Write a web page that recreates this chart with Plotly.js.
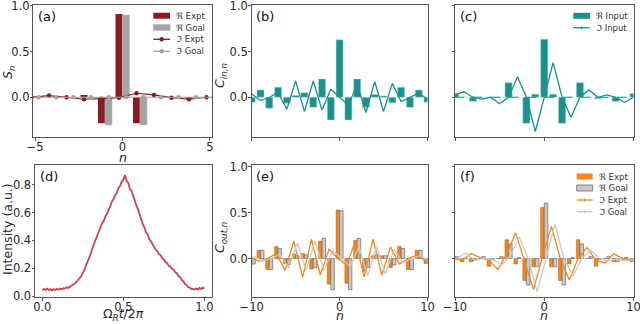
<!DOCTYPE html>
<html><head><meta charset="utf-8">
<script src="https://cdn.plot.ly/plotly-3.0.1.min.js"></script>
<style>html,body{margin:0;padding:0;background:#fff}#chart{width:640px;height:324px}</style>
</head><body><div id="chart"></div>
<script>
// ---------- data ----------
const nA = [-5,-4,-3,-2,-1,0,1,2,3,4,5];
const reExptA = [0, 0, 0, 0.025, -0.285, 0.912, -0.285, 0, 0, -0.015, 0];
const reGoalA = [0, 0, 0, 0, -0.303, 0.90, -0.303, 0, 0, 0, 0];
const imExptA = [0, 0.018, 0.0, -0.022, -0.015, -0.004, 0.044, 0.026, -0.004, -0.022, 0.0];
const imGoalA = [0, 0, 0, 0, 0, 0, 0, 0, 0, 0, 0];

const nC = [-10,-9,-8,-7,-6,-5,-4,-3,-2,-1,0,1,2,3,4,5,6,7,8,9,10];
// (b) input
const reInB = [-0.055, 0.08, -0.12, 0.11, -0.065, 0.02, 0.05, -0.11, 0.2, -0.25, 0.63, -0.25, 0.2, -0.11, 0.03, 0.015, -0.06, 0.11, -0.11, 0.08, -0.055];
const imInB = [0.035, -0.036, 0, 0.05, -0.13, 0.178, -0.156, 0.178, -0.138, 0.087, 0, -0.087, 0.14, -0.167, 0.17, -0.156, 0.152, -0.047, 0, 0.043, -0.02];
// (c) input
const reInC = [0.04, 0, -0.045, 0, 0, 0, 0.16, 0, -0.285, 0.033, 0.635, 0.033, -0.285, 0, 0.16, 0, -0.015, 0, -0.045, 0, 0.04];
const imInC = [0.025, 0.06, 0, -0.02, 0, -0.07, 0, 0.225, 0, -0.375, 0, 0.38, 0, -0.22, 0, 0.08, 0, 0.025, 0, -0.055, 0];
// (d) intensity trace, sampled every 0.01 of Omega_R t / 2pi
const intensityD = [0.043,0.052,0.046,0.055,0.045,0.051,0.042,0.05,0.046,0.054,
 0.047,0.055,0.05,0.058,0.055,0.064,0.06,0.07,0.074,0.085,
 0.09,0.103,0.11,0.13,0.143,0.168,0.188,0.222,0.248,0.283,
 0.308,0.348,0.378,0.422,0.448,0.482,0.498,0.525,0.542,0.574,
 0.592,0.624,0.645,0.68,0.696,0.726,0.742,0.775,0.79,0.82,
 0.835,0.868,0.826,0.814,0.77,0.758,0.716,0.694,0.652,0.624,
 0.582,0.558,0.516,0.494,0.456,0.444,0.41,0.394,0.372,0.358,
 0.332,0.324,0.302,0.294,0.272,0.264,0.245,0.238,0.218,0.213,
 0.197,0.192,0.172,0.165,0.145,0.138,0.117,0.108,0.088,0.082,
 0.065,0.062,0.052,0.053,0.048,0.056,0.05,0.06,0.052,0.062,0.056];
// (e) output for input (b)
const reExptE = [-0.06, 0.09, -0.12, 0.13, -0.055, 0.05, 0.055, -0.115, 0.19, -0.28, 0.53, -0.27, 0.2, -0.14, 0.03, 0.03, -0.1, 0.13, -0.12, 0.09, -0.055];
const reGoalE = [-0.06, 0.09, -0.12, 0.11, -0.07, 0.03, 0.04, -0.1, 0.22, -0.34, 0.52, -0.34, 0.22, -0.1, 0.04, 0.03, -0.07, 0.11, -0.12, 0.09, -0.06];
const imExptE = [0.02, -0.03, 0, 0.055, -0.13, 0.19, -0.205, 0.21, -0.18, 0.1, 0.0, -0.07, 0.19, -0.2, 0.21, -0.18, 0.125, -0.06, 0, 0.035, -0.025];
const imGoalE = [0.03, -0.03, 0, 0.045, -0.1, 0.17, -0.13, 0.19, -0.13, 0.09, 0, -0.09, 0.13, -0.19, 0.13, -0.17, 0.1, -0.045, 0, 0.03, -0.03];
// (f) output for input (c)
const reExptF = [0.0, -0.035, -0.035, 0.0, -0.085, 0.0, 0.205, -0.06, -0.24, -0.09, 0.555, -0.09, -0.24, -0.06, 0.205, 0.0, -0.085, 0.0, -0.035, -0.02, -0.035];
const reGoalF = [0.02, 0.0, -0.02, 0.02, -0.01, 0.02, 0.16, 0.01, -0.29, -0.09, 0.605, -0.09, -0.29, 0.01, 0.16, 0.02, -0.01, 0.02, -0.035, 0.01, 0.0];
const imExptF = [0.0, -0.02, 0.055, 0.01, -0.02, -0.12, 0.05, 0.28, -0.03, -0.34, 0.02, 0.35, 0.0, -0.235, 0.0, 0.12, -0.02, -0.05, 0.05, 0.0, -0.02];
const imGoalF = [0.0, 0.06, -0.02, 0.0, -0.01, -0.07, 0.03, 0.235, 0.0, -0.36, 0.0, 0.38, 0.0, -0.19, 0.0, 0.09, 0.0, -0.025, 0.0, -0.025, 0.0];

// ---------- style ----------
const FONT = 'DejaVu Sans';
const DARKRED = '#8c1a1e', GREY = '#a3a3a3', TEAL = '#19928f', ORANGE = '#f5861a', LGREY = '#c9c9c9', DRED = '#c9454f';
const shiftL = arr => arr.map(v => v - 0.2);   // bar-centre offsets of paired series
const shiftR = arr => arr.map(v => v + 0.2);

const traces = [
  // (a)
  {type:'bar', x:nA, y:reExptA, xaxis:'x', yaxis:'y', width:0.4, offset:-0.4, marker:{color:DARKRED}},
  {type:'bar', x:nA, y:reGoalA, xaxis:'x', yaxis:'y', width:0.4, offset:0, marker:{color:GREY, line:{color:'#bdbdbd', width:0.6}}},
  {type:'scatter', mode:'lines+markers', x:shiftL(nA), y:imExptA, xaxis:'x', yaxis:'y', line:{color:DARKRED, width:1.2}, marker:{size:4.5, color:DARKRED}},
  {type:'scatter', mode:'lines+markers', x:shiftR(nA), y:imGoalA, xaxis:'x', yaxis:'y', line:{color:GREY, width:1.2}, marker:{size:4.5, color:GREY}},
  // (b)
  {type:'bar', x:nC, y:reInB, xaxis:'x2', yaxis:'y2', width:0.8, marker:{color:TEAL, line:{color:'#b8cfcf', width:0.5}}},
  {type:'scatter', mode:'lines', x:nC, y:imInB, xaxis:'x2', yaxis:'y2', line:{color:TEAL, width:1.3}},
  // (c)
  {type:'bar', x:nC, y:reInC, xaxis:'x3', yaxis:'y3', width:0.8, marker:{color:TEAL, line:{color:'#b8cfcf', width:0.5}}},
  {type:'scatter', mode:'lines', x:nC, y:imInC, xaxis:'x3', yaxis:'y3', line:{color:TEAL, width:1.3}},
  // (d)
  {type:'scatter', mode:'lines', y:intensityD, x0:0, dx:0.01, xaxis:'x4', yaxis:'y4', line:{color:DRED, width:1.8}},
  // (e)
  {type:'bar', x:nC, y:reExptE, xaxis:'x5', yaxis:'y5', width:0.4, offset:-0.4, marker:{color:ORANGE, line:{color:'#7a4a1a', width:0.4}}},
  {type:'bar', x:nC, y:reGoalE, xaxis:'x5', yaxis:'y5', width:0.4, offset:0, marker:{color:LGREY, line:{color:'#6a6a6a', width:0.7}}},
  {type:'scatter', mode:'lines', x:shiftL(nC), y:imExptE, xaxis:'x5', yaxis:'y5', line:{color:ORANGE, width:1.3}},
  {type:'scatter', mode:'lines', x:shiftR(nC), y:imGoalE, xaxis:'x5', yaxis:'y5', line:{color:LGREY, width:1.3}},
  // (f)
  {type:'bar', x:nC, y:reExptF, xaxis:'x6', yaxis:'y6', width:0.4, offset:-0.4, marker:{color:ORANGE, line:{color:'#7a4a1a', width:0.4}}},
  {type:'bar', x:nC, y:reGoalF, xaxis:'x6', yaxis:'y6', width:0.4, offset:0, marker:{color:LGREY, line:{color:'#6a6a6a', width:0.7}}},
  {type:'scatter', mode:'lines', x:shiftL(nC), y:imExptF, xaxis:'x6', yaxis:'y6', line:{color:ORANGE, width:1.3}},
  {type:'scatter', mode:'lines', x:shiftR(nC), y:imGoalF, xaxis:'x6', yaxis:'y6', line:{color:LGREY, width:1.3}}
];

const W = 640, H = 324;
const px = v => v / W, py = v => 1 - v / H;

function ax(isX, extra) {
  return Object.assign({
    showline:true, mirror:true, linecolor:'#555', linewidth:1,
    ticks:'outside', ticklen:2.5, tickwidth:1, tickcolor:'#555',
    showgrid:false, zeroline:false, fixedrange:true, ticklabeloverflow:'allow',
    ticklabelstandoff: isX ? -3 : -2,
    tickfont:{family:FONT, size:11.5, color:'#262626'}
  }, extra);
}

const layout = {
  width:W, height:H, margin:{l:0,r:0,t:0,b:0},
  paper_bgcolor:'#fff', plot_bgcolor:'#fff', showlegend:false, barmode:'overlay', font:{family:FONT},
  xaxis:  ax(true,  {domain:[px(33.3), px(211.7)], anchor:'y',  range:[-5.1,5.1], tickvals:[-5,0,5]}),
  yaxis:  ax(false, {domain:[py(137), py(5)], anchor:'x', range:[-0.435,1.01], tickvals:[0,0.5,1], tickformat:'.1f'}),
  xaxis2: ax(true,  {domain:[px(251.7), px(427.5)], anchor:'y2', range:[-10,10], tickvals:[-10,0,10], showticklabels:false}),
  yaxis2: ax(false, {domain:[py(137), py(5)], anchor:'x2', range:[-0.435,1.01], tickvals:[0,0.5,1], tickformat:'.1f'}),
  xaxis3: ax(true,  {domain:[px(455), px(633.5)], anchor:'y3', range:[-10,10], tickvals:[-10,0,10], showticklabels:false}),
  yaxis3: ax(false, {domain:[py(137), py(5)], anchor:'x3', range:[-0.435,1.01], tickvals:[0,0.5,1], tickformat:'.1f', showticklabels:false}),
  xaxis4: ax(true,  {domain:[px(35), px(211.7)], anchor:'y4', range:[-0.045,1.045], tickvals:[0,0.5,1], tickformat:'.1f'}),
  yaxis4: ax(false, {domain:[py(297), py(165)], anchor:'x4', range:[-0.005,0.94], tickvals:[0,0.2,0.4,0.6,0.8], tickformat:'.1f'}),
  xaxis5: ax(true,  {domain:[px(251.7), px(427.5)], anchor:'y5', range:[-10,10], tickvals:[-10,0,10]}),
  yaxis5: ax(false, {domain:[py(297), py(165)], anchor:'x5', range:[-0.42,1.02], tickvals:[0,0.5,1], tickformat:'.1f'}),
  xaxis6: ax(true,  {domain:[px(455), px(633.5)], anchor:'y6', range:[-10,10], tickvals:[-10,0,10]}),
  yaxis6: ax(false, {domain:[py(297), py(165)], anchor:'x6', range:[-0.42,1.02], tickvals:[0,0.5,1], tickformat:'.1f', showticklabels:false})
};

const annotations = [], shapes = [];
function axTitle(text, x, y, rot, yanchor) {
  annotations.push({text:text, xref:'paper', yref:'paper', x:px(x), y:py(y), xanchor:'center', yanchor:yanchor||'middle', textangle:rot||0, showarrow:false, borderpad:0, font:{family:FONT, size:12.5, color:'#262626'}});
}
axTitle('<i>S</i><sub><i>n</i></sub>', 8, 73, -90);
axTitle('<i>C</i><sub><i>in,n</i></sub>', 221, 76, -90);
axTitle('Intensity (a.u.)', 7, 229, -90);
axTitle('<i>C</i><sub><i>out,n</i></sub>', 220, 238, -90);
axTitle('<i>n</i>', 122.5, 158);
axTitle('Ω<sub><i>R</i></sub><i>t</i>/2<i>π</i>', 123.5, 324, 0, 'bottom');
axTitle('<i>n</i>', 339.5, 324, 0, 'bottom');
axTitle('<i>n</i>', 544, 324, 0, 'bottom');

shapes.push({type:'line', xref:'x3 domain', yref:'y3', x0:0, x1:1, y0:0, y1:0, line:{color:TEAL, width:1.2, dash:'dash'}});

[['(a)','x','y'],['(b)','x2','y2'],['(c)','x3','y3'],['(d)','x4','y4'],['(e)','x5','y5'],['(f)','x6','y6']].forEach(p => {
  annotations.push({text:p[0], xref:p[1]+' domain', yref:p[2]+' domain', x:0.015, y:0.985, xanchor:'left', yanchor:'top', showarrow:false, font:{family:FONT, size:13, color:'#111'}});
});

function legRect(x0, x1, yc, fill, edge) {
  shapes.push({type:'rect', xref:'paper', yref:'paper', x0:px(x0), x1:px(x1), y0:py(yc+3), y1:py(yc-3), fillcolor:fill, line:{color:edge||fill, width:edge?0.8:0}});
}
function legLine(x0, x1, yc, color, mk) {
  shapes.push({type:'line', xref:'paper', yref:'paper', x0:px(x0), x1:px(x1), y0:py(yc), y1:py(yc), line:{color:color, width:1.3}});
  const xc = (x0 + x1) / 2;
  if (mk === 'dot') shapes.push({type:'circle', xref:'paper', yref:'paper', x0:px(xc-2.2), x1:px(xc+2.2), y0:py(yc+2.2), y1:py(yc-2.2), fillcolor:color, line:{color:color, width:0}});
  if (mk === 'tick') shapes.push({type:'line', xref:'paper', yref:'paper', x0:px(xc), x1:px(xc), y0:py(yc+1.8), y1:py(yc-1.8), line:{color:color, width:0.8}});
}
function legText(x, yc, t) {
  annotations.push({text:t, xref:'paper', yref:'paper', x:px(x), y:py(yc), xanchor:'left', yanchor:'middle', showarrow:false, borderpad:0, font:{family:FONT, size:8.5, color:'#333'}});
}
legRect(153.3, 170, 15.7, DARKRED); legText(174.5, 15.7, 'ℜ Expt');
legRect(153.3, 170, 27.5, GREY, '#bdbdbd'); legText(174.5, 27.5, 'ℜ Goal');
legLine(153.3, 170, 39.3, DARKRED, 'dot'); legText(174.5, 39.3, 'ℑ Expt');
legLine(153.3, 170, 51.3, GREY, 'dot'); legText(174.5, 51.3, 'ℑ Goal');
legRect(573.3, 590, 15.8, TEAL); legText(594.5, 15.8, 'ℜ Input');
legLine(573.3, 590, 27.7, TEAL, 'tick'); legText(594.5, 27.7, 'ℑ Input');
legRect(576.7, 592.7, 176.5, ORANGE); legText(597.5, 176.5, 'ℜ Expt');
legRect(576.7, 592.7, 188, LGREY, '#6a6a6a'); legText(597.5, 188, 'ℜ Goal');
legLine(576.7, 592.7, 200, ORANGE, 'tick'); legText(597.5, 200, 'ℑ Expt');
legLine(576.7, 592.7, 211.7, LGREY, 'tick'); legText(597.5, 211.7, 'ℑ Goal');

// keep every tick label visible (labels near the page edge must not be auto-hidden)
function showTickLabels() {
  document.querySelectorAll('g.xaxislayer-above text, g.yaxislayer-above text').forEach(t => {
    [t, t.parentNode].forEach(el => {
      if (!el || !el.style) return;
      el.removeAttribute('display');
      el.style.display = '';
      el.style.opacity = '';
      el.style.visibility = '';
    });
  });
}

(async () => {
  const gd = await Plotly.newPlot('chart', traces, layout, {staticPlot:true, displayModeBar:false});
  for (let i = 0; i < shapes.length; i++) {
    await Plotly.relayout(gd, {['shapes[' + i + ']']: shapes[i]});
  }
  for (let i = 0; i < annotations.length; i++) {
    await Plotly.relayout(gd, {['annotations[' + i + ']']: annotations[i]});
  }
  showTickLabels();
  setTimeout(showTickLabels, 30);
  setTimeout(showTickLabels, 200);
})();
</script>
</body></html>
